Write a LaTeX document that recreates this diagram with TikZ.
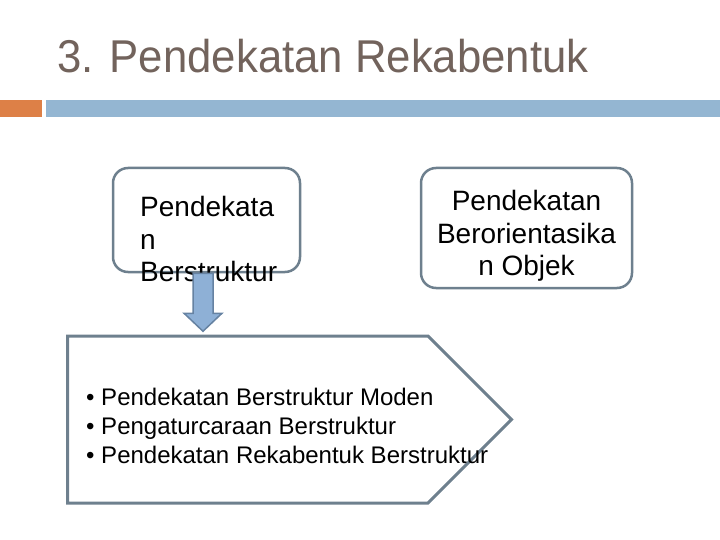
\documentclass[tikz,border=0pt]{standalone}
\usepackage{fontspec}
\setmainfont{Liberation Sans}
\newfontfamily\titlefont[FakeStretch=0.95]{Liberation Sans}
\usetikzlibrary{shapes.symbols,positioning}

\definecolor{titlegray}{RGB}{114,99,92}
\definecolor{barorange}{RGB}{221,128,71}
\definecolor{barblue}{RGB}{148,182,210}
\definecolor{edgegray}{RGB}{110,128,142}
\definecolor{arrowfill}{RGB}{142,176,214}
\definecolor{arrowedge}{RGB}{102,130,162}

\begin{document}
\begin{tikzpicture}[
x=1pt,
y=-1pt,
approach/.style={
  draw=edgegray,
  line width=2.5pt,
  rounded corners=15pt,
  fill=white,
  inner sep=0pt
  },
boxtext/.style={
  font=\fontsize{28}{32.5}\selectfont,
  inner sep=0pt
  },
listbox/.style={
  signal,
  signal to=east,
  signal pointer angle=90,
  draw=edgegray,
  line width=3pt,
  minimum width=444pt,
  minimum height=167pt,
  inner sep=0pt
  },
flow/.style={
  draw=arrowedge,
  fill=arrowfill,
  line width=1.5pt,
  line join=miter
  }
]
\useasboundingbox (0,0) rectangle (720,540);

% title and bars
\node[anchor=base west, inner sep=0pt, text=titlegray,
  font=\titlefont\fontsize{46}{50}\selectfont] (title) at (57,73)
  {3. Pendekatan Rekabentuk};
\fill[barorange] (0,100) rectangle (42,117);
\fill[barblue] (46,100) rectangle (720,117);

% the two approaches
\node[approach, minimum width=187pt, minimum height=104pt] (pstruct)
  at (206.5,220) {};
\node[boxtext, align=left, anchor=west] (pstructtext) at (140,239)
  {Pendekata\\n\\Berstruktur};
\node[approach, minimum width=211pt, minimum height=120pt] (pobjek)
  at (526.5,228) {};
\node[boxtext, align=center] (pobjektext) at ([yshift=-8]pobjek.center)
  {Pendekatan\\Berorientasika\\n Objek};

% list of structured methods
\node[listbox, anchor=west] (methods) at (66,419.5) {};
\node[anchor=west, inner sep=0pt, align=left,
  font=\fontsize{24}{29}\selectfont] (methodstext) at (86,426)
  {• Pendekatan Berstruktur Moden\\
   • Pengaturcaraan Berstruktur\\
   • Pendekatan Rekabentuk Berstruktur};

% block arrow down to the list
\draw[flow] ([xshift=-13.5]pstruct.south) -- ++(0,40) -- ++(-9,0)
  -- ++(19,18) coordinate (tip) -- ++(19,-18) -- ++(-9,0) -- ++(0,-40) -- cycle;
\end{tikzpicture}
\end{document}
